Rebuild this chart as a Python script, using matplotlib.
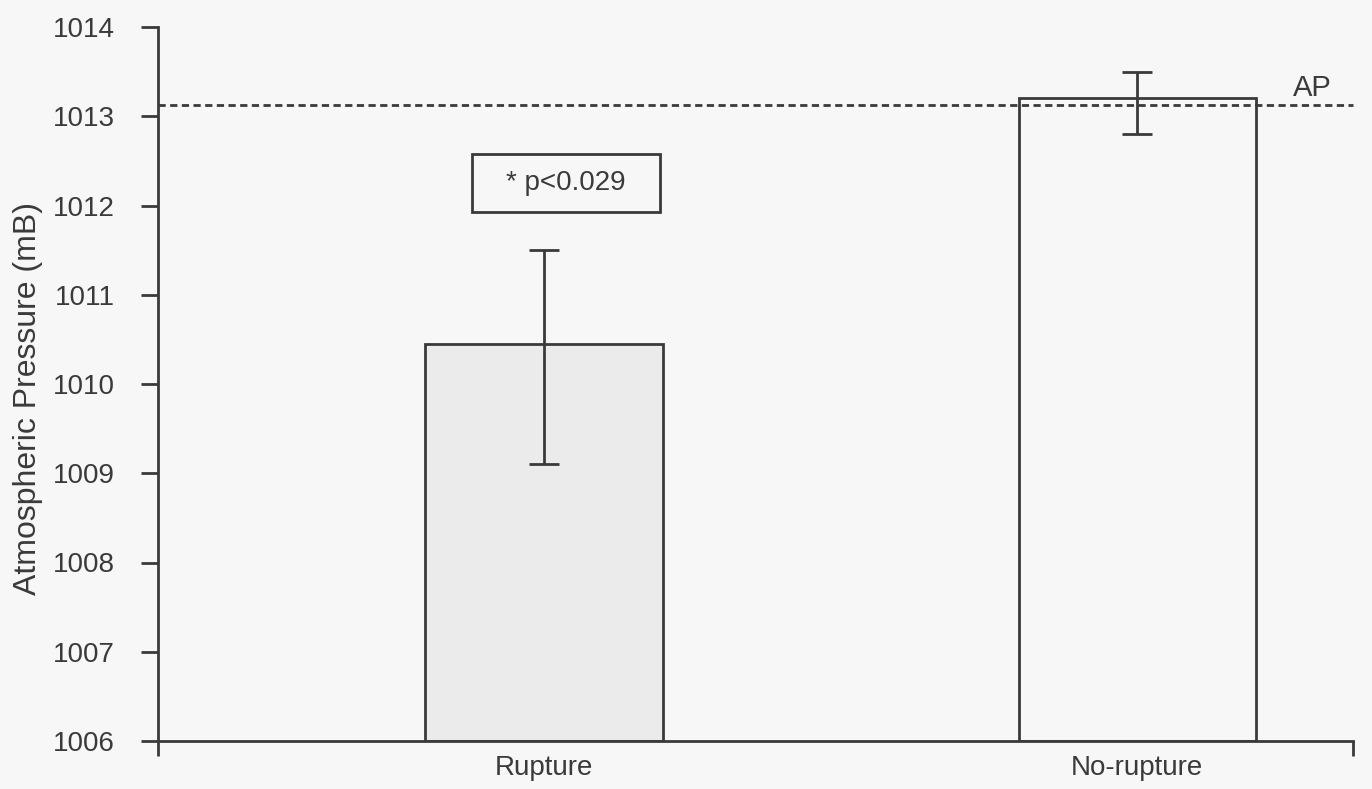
import matplotlib
matplotlib.use('Agg')
import matplotlib.pyplot as plt
from matplotlib.patches import Rectangle
import matplotlib.transforms as mtransforms

# ---- data ----
categories = ['Rupture', 'No-rupture']
means = [1010.45, 1013.2]
err_low = [1.35, 0.40]
err_high = [1.05, 0.30]
bar_fills = ['#ebebeb', '#f7f7f7']
ap_value = 1013.13
ap_label = 'AP'
p_text = '* p<0.029'
y_ticks = [1006, 1007, 1008, 1009, 1010, 1011, 1012, 1013, 1014]
y_label = 'Atmospheric Pressure (mB)'

# ---- style ----
plt.rcParams['font.family'] = ['Liberation Sans', 'DejaVu Sans']
ink = '#3a3a3a'
bg = '#f7f7f7'

fig = plt.figure(figsize=(13.72, 7.89), dpi=100, facecolor=bg)
ax = fig.add_axes([158/1372, 48/789, 1195/1372, 714/789])
ax.set_facecolor(bg)

x = list(range(len(categories)))
ymin, ymax = y_ticks[0], y_ticks[-1]
heights = [m - ymin for m in means]
ax.bar(x, heights, bottom=ymin, width=0.40, color=bar_fills,
       edgecolor=ink, linewidth=2.0, zorder=2)
ax.errorbar(x, means, yerr=[err_low, err_high], fmt='none', ecolor=ink,
            elinewidth=2.0, capsize=10.5, capthick=2.0, zorder=3)

# AP reference line
ax.axhline(ap_value, color=ink, linewidth=2.0, linestyle=(0, (2.6, 1.6)),
           zorder=4, clip_on=False)
trans = mtransforms.blended_transform_factory(ax.transAxes, ax.transData)
ax.annotate(ap_label, xy=(0.966, ap_value), xycoords=trans,
            xytext=(0, 6.5), textcoords='offset points',
            ha='center', va='baseline', fontsize=21, color=ink)

# significance box
ax.add_patch(Rectangle((0.2628, 0.7409), 0.1573, 0.0812, transform=ax.transAxes,
                       fill=False, edgecolor=ink, linewidth=2.0, zorder=5))
ax.text(0.3414, 0.7815, p_text, transform=ax.transAxes, ha='center',
        va='center', fontsize=20, color=ink, zorder=6)

# axes
x_left, x_right = -0.651, 1.364
ax.set_xlim(x_left, x_right)
ax.set_ylim(ymin, ymax)
ax.set_yticks(y_ticks)
ax.set_yticklabels([str(t) for t in y_ticks], fontsize=20, color=ink)
ax.tick_params(axis='y', direction='out', length=12, width=2.0, color=ink, pad=19)

ax.set_xticks([x_left, x_right])
ax.set_xticklabels(['', ''])
ax.tick_params(axis='x', which='major', direction='out', length=11, width=2.0, color=ink)
ax.set_xticks(x, minor=True)
ax.set_xticklabels(categories, minor=True, fontsize=20, color=ink)
ax.tick_params(axis='x', which='minor', length=0, pad=10)

for side in ['top', 'right']:
    ax.spines[side].set_visible(False)
for side in ['left', 'bottom']:
    ax.spines[side].set_linewidth(2.0)
    ax.spines[side].set_color(ink)

ax.set_ylabel(y_label, fontsize=23, color=ink)
ax.yaxis.set_label_coords(-0.096, 0.48)

fig.savefig('out.png', dpi=100, facecolor=bg)
